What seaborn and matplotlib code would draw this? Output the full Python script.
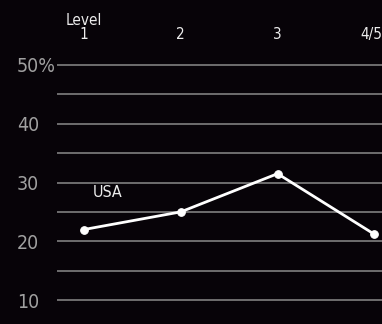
import matplotlib
matplotlib.use("Agg")
import matplotlib.pyplot as plt
import matplotlib.transforms as mtransforms
import seaborn as sns
import numpy as np

# Data
levels = ["Level\n1", "2", "3", "4/5"]
usa_values = [22.0, 25.0, 31.5, 21.2]
series_label = "USA"
ytick_values = [10, 20, 30, 40, 50]
ytick_labels = ["10", "20", "30", "40", "50%"]
grid_values = [10, 15, 20, 25, 30, 35, 40, 45, 50]

sns.set_theme(style="dark")
plt.rcParams['font.family'] = ['DejaVu Sans']
plt.rcParams['font.stretch'] = 'condensed'

bg = "#070308"
fig = plt.figure(figsize=(3.82, 3.24), dpi=100, facecolor=bg)
ax = fig.add_axes([57/382, 0, 325/382, 264/324])
ax.set_facecolor(bg)

x = np.arange(len(levels))
sns.lineplot(x=x, y=usa_values, ax=ax, color="white", linewidth=2,
             marker="o", markersize=5.5, markeredgecolor="white", zorder=3)

for g in grid_values:
    ax.axhline(g, color="#8a8a8a", linewidth=1.1, zorder=1)
ax.grid(False)

ax.set_xlim(-0.28, 3.08)
ax.set_ylim(50 - 259/5.875, 50 + 5/5.875)

ax.xaxis.tick_top()
ax.set_xticks(x)
ax.set_xticklabels(levels, color="#ececec", fontsize=11, linespacing=0.95)
ax.tick_params(axis="x", length=0, pad=13)
last = ax.get_xticklabels()[-1]
last.set_transform(last.get_transform() +
                   mtransforms.ScaledTranslation(-3/100, 0, fig.dpi_scale_trans))

ax.set_yticks(ytick_values)
ax.set_yticklabels(ytick_labels, color="#a0a0a0", fontsize=14)
for lab in ax.get_yticklabels():
    lab.set_horizontalalignment("left")
ax.tick_params(axis="y", length=0, pad=29)

for s in ax.spines.values():
    s.set_visible(False)

ax.text(0.24, 28.3, series_label, color="#ececec", fontsize=11.5,
        ha="center", va="center")

fig.savefig("out.png", dpi=100, facecolor=bg)
